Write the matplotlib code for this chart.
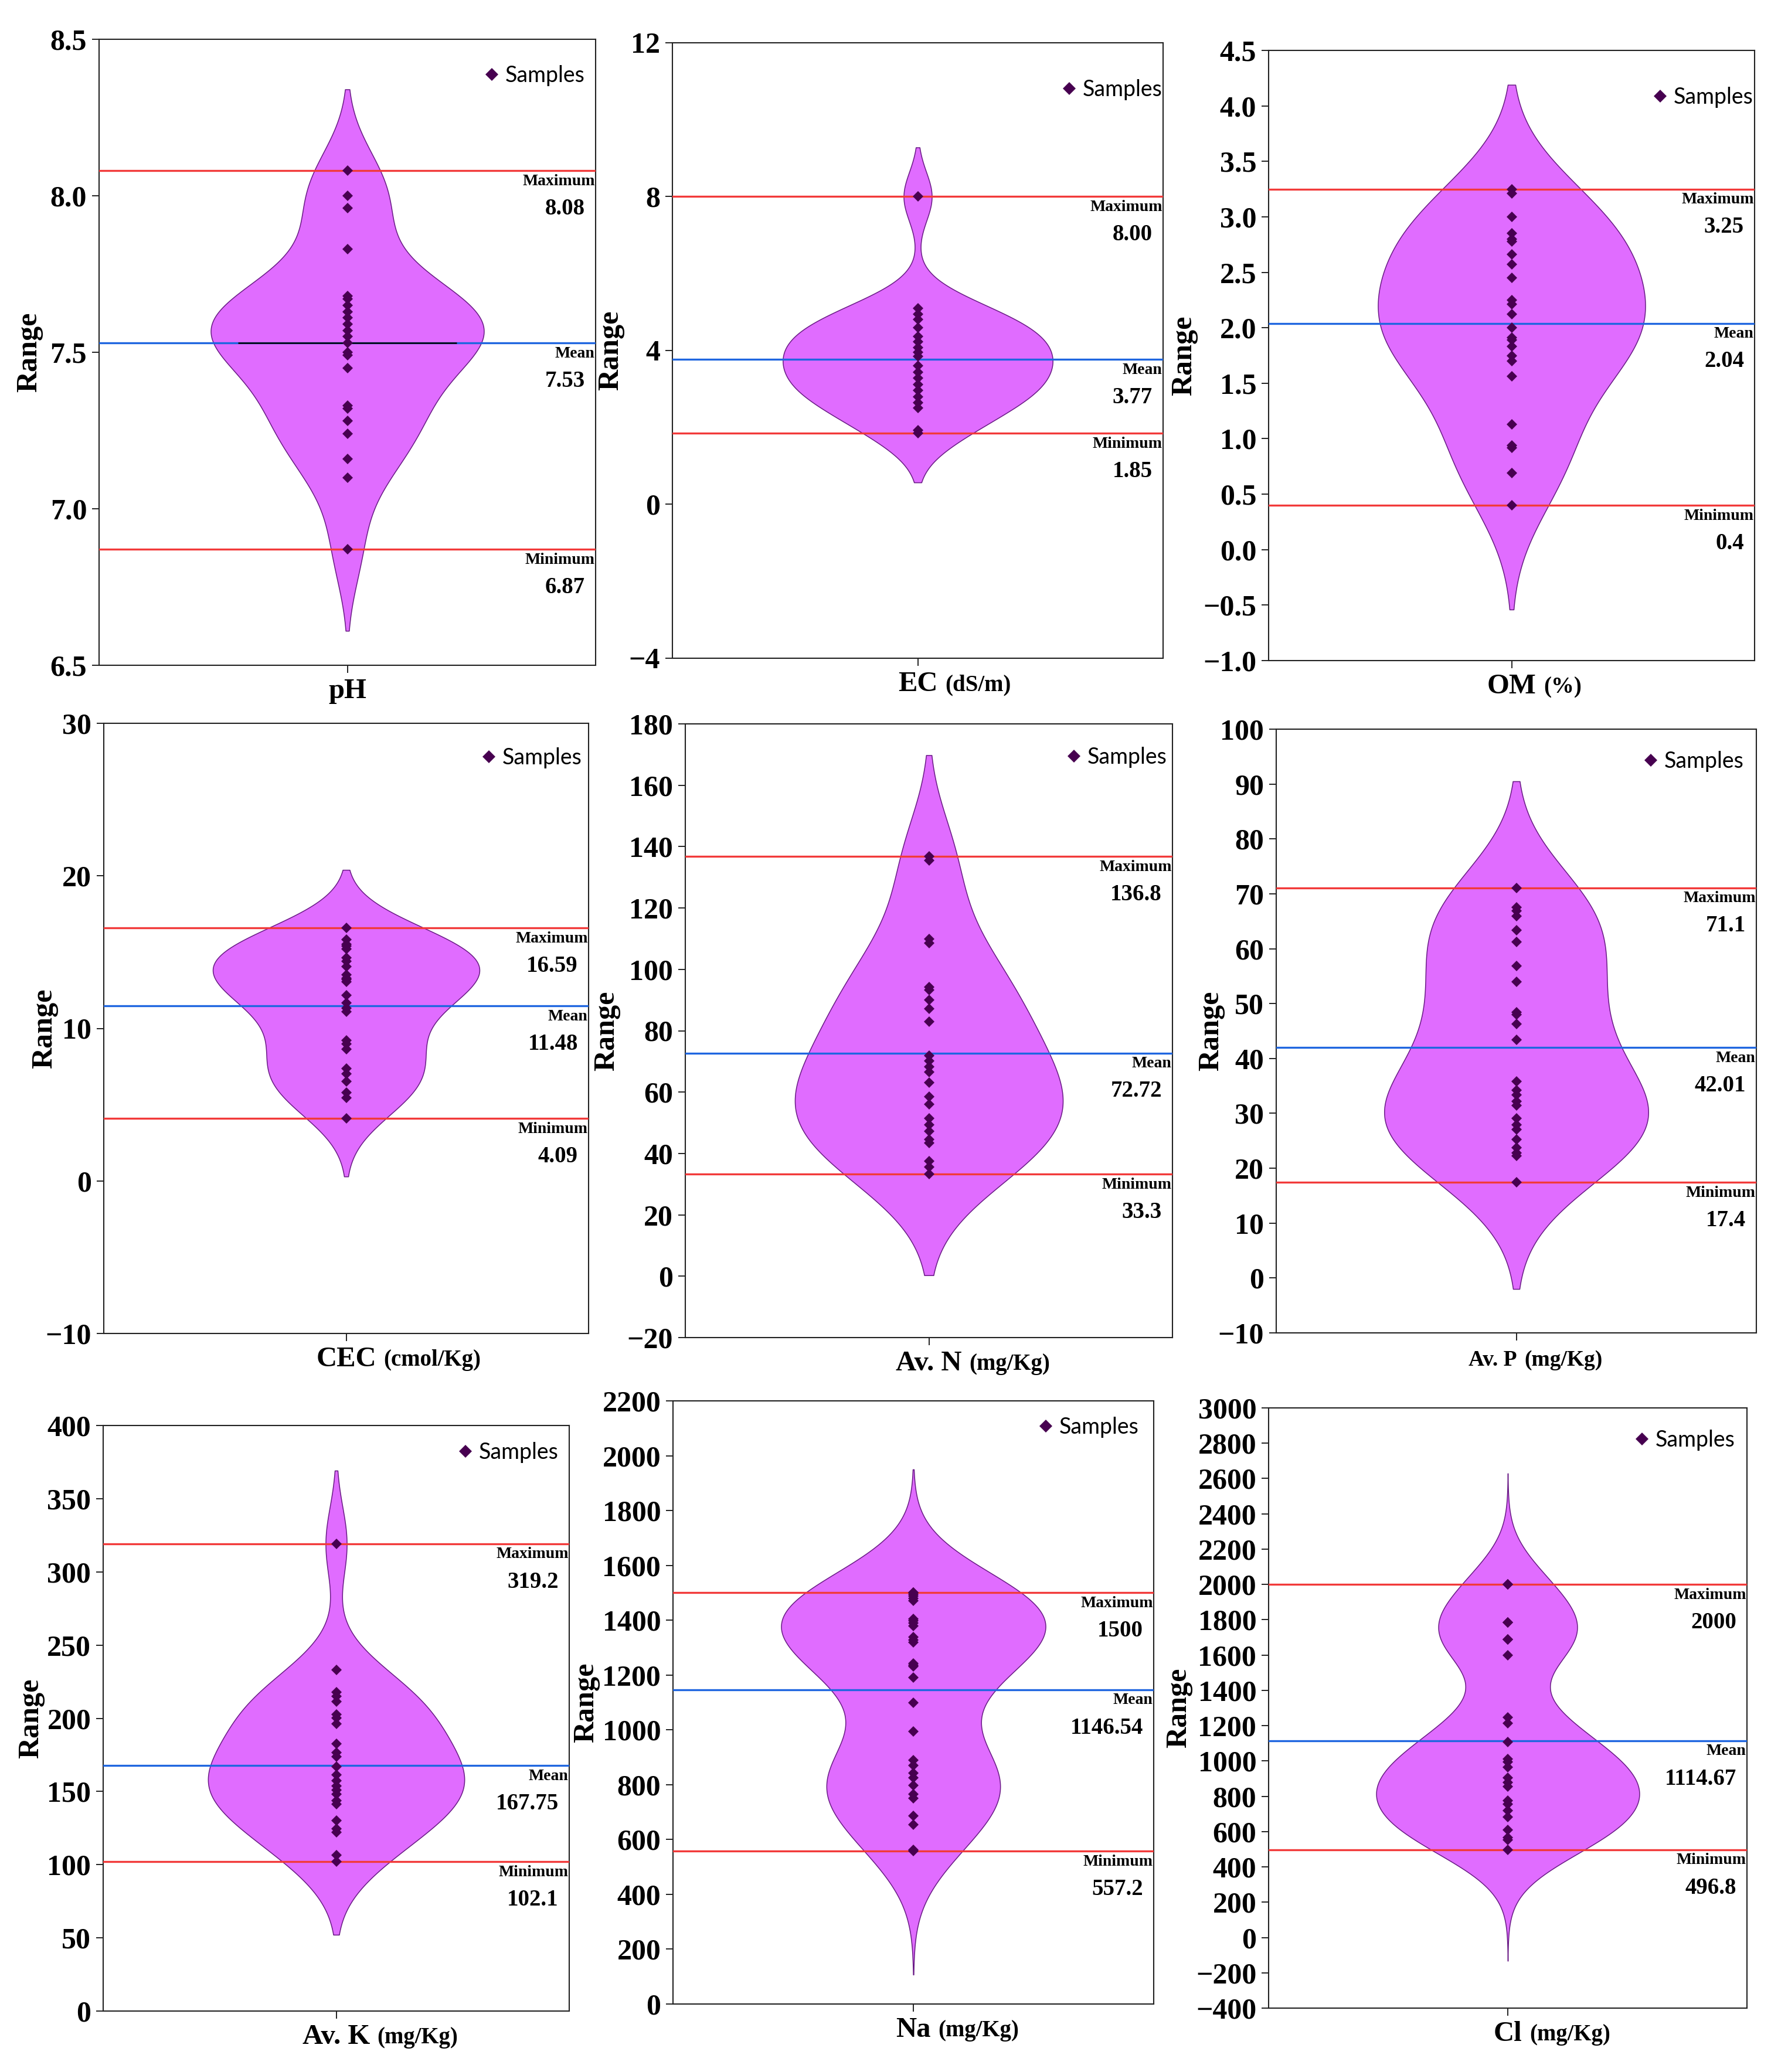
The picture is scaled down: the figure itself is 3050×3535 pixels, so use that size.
import numpy as np
import matplotlib
matplotlib.use("Agg")
import matplotlib.pyplot as plt
from matplotlib.lines import Line2D

# ---------------- data ----------------
panel_names = ["pH", "EC", "OM", "CEC", "Av. N", "Av. P", "Av. K", "Na", "Cl"]
panel_units = ["", "(dS/m)", "(%)", "(cmol/Kg)", "(mg/Kg)", "(mg/Kg)", "(mg/Kg)", "(mg/Kg)", "(mg/Kg)"]

ph_samples = [8.08, 8.00, 7.96, 7.83, 7.68, 7.67, 7.65, 7.63, 7.61, 7.59, 7.57, 7.55,
              7.53, 7.50, 7.49, 7.45, 7.33, 7.32, 7.28, 7.24, 7.16, 7.10, 6.87]
ec_samples = [8.00, 5.09, 4.95, 4.81, 4.60, 4.37, 4.23, 4.07, 3.96, 3.84, 3.61, 3.43,
              3.29, 3.11, 2.97, 2.79, 2.65, 2.50, 1.92, 1.85]
om_samples = [3.25, 3.21, 3.00, 2.85, 2.80, 2.78, 2.66, 2.57, 2.45, 2.25, 2.21, 2.12,
              2.00, 1.91, 1.89, 1.83, 1.75, 1.70, 1.56, 1.13, 0.94, 0.92, 0.69, 0.40]
cec_samples = [16.59, 15.82, 15.50, 15.40, 15.20, 14.64, 14.41, 14.07, 13.51, 13.28,
               13.20, 13.06, 12.16, 11.68, 11.31, 11.09, 9.20, 9.00, 8.63, 7.36, 7.03,
               6.52, 5.81, 5.45, 4.09]
avn_samples = [136.8, 135.4, 109.9, 108.5, 94.2, 93.2, 90.0, 87.2, 83.0, 71.8, 70.1,
               68.3, 66.5, 63.1, 58.5, 56.1, 51.5, 49.4, 47.3, 44.5, 43.5, 37.5, 35.6, 33.3]
avp_samples = [71.1, 67.5, 66.9, 65.9, 63.4, 61.2, 56.9, 54.0, 48.4, 48.0, 46.3, 43.4,
               35.8, 34.2, 33.4, 32.2, 31.4, 29.1, 27.9, 27.1, 25.2, 23.8, 22.8, 22.3, 17.4]
avk_samples = [319.2, 232.9, 217.8, 214.9, 211.3, 202.5, 200.1, 196.0, 182.5, 176.6,
               173.6, 167.1, 161.2, 157.4, 153.9, 150.9, 148.0, 143.6, 141.2, 130.3,
               124.4, 122.3, 106.7, 102.1]
na_samples = [1500, 1500, 1495, 1488, 1479, 1470, 1404, 1398, 1390, 1378, 1338, 1328,
              1319, 1242, 1236, 1231, 1191, 1098, 995, 889, 870, 843, 825, 798, 766,
              750, 686, 654, 562, 557.2]
cl_samples = [2000, 2000, 1784, 1784, 1689, 1689, 1598, 1246, 1214, 1109, 1011, 994,
              965, 904, 879, 855, 774, 754, 718, 681, 608, 566, 554, 496.8]

max_values = [8.08, 8.00, 3.25, 16.59, 136.8, 71.1, 319.2, 1500, 2000]
mean_values = [7.53, 3.77, 2.04, 11.48, 72.72, 42.01, 167.75, 1146.54, 1114.67]
min_values = [6.87, 1.85, 0.4, 4.09, 33.3, 17.4, 102.1, 557.2, 496.8]
max_labels = ["8.08", "8.00", "3.25", "16.59", "136.8", "71.1", "319.2", "1500", "2000"]
mean_labels = ["7.53", "3.77", "2.04", "11.48", "72.72", "42.01", "167.75", "1146.54", "1114.67"]
min_labels = ["6.87", "1.85", "0.4", "4.09", "33.3", "17.4", "102.1", "557.2", "496.8"]

y_limits = [(6.5, 8.5), (-4, 12), (-1.0, 4.5), (-10, 30), (-20, 180), (-10, 100),
            (0, 400), (0, 2200), (-400, 3000)]
y_tick_steps = [0.5, 4, 0.5, 10, 20, 10, 50, 200, 200]

sample_sets = [ph_samples, ec_samples, om_samples, cec_samples, avn_samples,
               avp_samples, avk_samples, na_samples, cl_samples]

# ---------------- style / layout ----------------
FIG_W, FIG_H, DPI = 3050, 3535, 100
axes_boxes = [(169, 67, 1016, 1135), (1147, 73, 1984, 1123), (2164, 86, 2993, 1127),
              (177, 1234, 1004, 2275), (1169, 1235, 2000, 2282), (2177, 1244, 2996, 2274),
              (176, 2432, 971, 3431), (1148, 2390, 1968, 3419), (2164, 2402, 2980, 3426)]
ylabel_offsets = [119, 105, 144, 101, 134, 111, 123, 148, 153]
legend_offsets = [(-177, 62), (-160, 80), (-161, 80), (-170, 59), (-168, 57),
                  (-180, 55), (-177, 46), (-184, 45), (-179, 55)]
violin_bw = [0.13, 0.64, 0.47, 1.9, 16.5, 9.7, 25, 150, 185]
violin_cut = [2, 2, 2, 2, 2, 2, 2, 3.0, 3.4]
name_sizes = [35, 35, 35, 35, 35, 27, 35, 35, 35]
name_dx = [0, 0, 0, 0, 0, -40, 0, 0, 0]

VIOLIN = "#E06CFF"
VEDGE = "#6A1B86"
PT = "#470050"
RED = "#F23A3A"
BLUE = "#1F66E0"
SERIF = ["Liberation Serif", "DejaVu Serif"]

plt.rcParams["font.family"] = SERIF
plt.rcParams["font.weight"] = "bold"
plt.rcParams["axes.unicode_minus"] = True

fig = plt.figure(figsize=(FIG_W / DPI, FIG_H / DPI), dpi=DPI)
fig.patch.set_facecolor("white")


def px_box(l, t, r, b):
    return [l / FIG_W, 1 - b / FIG_H, (r - l) / FIG_W, (b - t) / FIG_H]


def kde(samples, bw, grid):
    s = np.asarray(samples, float)
    z = (grid[:, None] - s[None, :]) / bw
    return np.exp(-0.5 * z * z).sum(axis=1) / (len(s) * bw * np.sqrt(2 * np.pi))


for i in range(9):
    l, t, r, b = axes_boxes[i]
    aw, ah = r - l, b - t
    ax = fig.add_axes(px_box(l, t, r, b))
    s = np.asarray(sample_sets[i], float)
    bw = violin_bw[i]
    cut = violin_cut[i]
    grid = np.linspace(s.min() - cut * bw, s.max() + cut * bw, 900)
    dens = kde(s, bw, grid)
    half = dens / dens.max() * 0.275
    ax.fill_betweenx(grid, -half, half, facecolor=VIOLIN, edgecolor=VEDGE,
                     linewidth=1.1, zorder=2)

    ax.axhline(max_values[i], color=RED, lw=2.4, zorder=3)
    ax.axhline(min_values[i], color=RED, lw=2.4, zorder=3)
    ax.axhline(mean_values[i], color=BLUE, lw=2.4, zorder=3)
    if i == 0:
        ax.hlines(mean_values[i], -0.22, 0.22, color="black", lw=1.8, zorder=3.5)

    ax.plot(np.zeros(len(s)), s, linestyle="none", marker="D", ms=9.5,
            color=PT, mew=0, zorder=4)

    ax.set_xlim(-0.5, 0.5)
    lo, hi = y_limits[i]
    ax.set_ylim(lo, hi)
    step = y_tick_steps[i]
    ax.set_yticks(np.arange(lo, hi + step / 2, step))
    ax.set_xticks([0])
    ax.set_xticklabels([""])
    ax.tick_params(axis="both", direction="out", length=9, width=1.4,
                   labelsize=36, pad=6, color="#222222")
    for lab in ax.get_yticklabels():
        lab.set_fontweight("bold")
        lab.set_family(SERIF)
    for sp in ax.spines.values():
        sp.set_linewidth(1.5)
        sp.set_color("#222222")

    ax.set_ylabel("Range", fontsize=36, fontweight="bold", va="center")
    ax.yaxis.set_label_coords(-ylabel_offsets[i] / aw, 0.5)

    # right-hand statistic labels
    for val, name, lab in [(max_values[i], "Maximum", max_labels[i]),
                           (mean_values[i], "Mean", mean_labels[i]),
                           (min_values[i], "Minimum", min_labels[i])]:
        ax.annotate(name, xy=(1, val), xycoords=("axes fraction", "data"),
                    xytext=(-1, -13), textcoords="offset points", ha="right",
                    va="center", fontsize=20, fontweight="bold", zorder=5)
        ax.annotate(lab, xy=(1, val), xycoords=("axes fraction", "data"),
                    xytext=(-13, -47), textcoords="offset points", ha="right",
                    va="center", fontsize=28, fontweight="bold", zorder=5)

    # x label: name + smaller unit
    main = ax.annotate(panel_names[i], xy=(0.5, 0), xycoords="axes fraction",
                       xytext=(name_dx[i] * 0.72, -40), textcoords="offset points",
                       ha="center", va="baseline", fontsize=name_sizes[i],
                       fontweight="bold", annotation_clip=False)
    if panel_units[i]:
        usize = 28 if name_sizes[i] > 30 else name_sizes[i]
        ax.annotate(panel_units[i], xy=(1, 0), xycoords=main,
                    xytext=(9, 0.216 * name_sizes[i]), textcoords="offset points",
                    ha="left", va="baseline", fontsize=usize, fontweight="bold",
                    annotation_clip=False)

    # legend
    dx, dy = legend_offsets[i]
    em = 27 * DPI / 72.0
    hl = 0.6
    anchor_x = (aw + dx - hl * em / 2) / aw
    anchor_y = 1 - dy / ah
    handle = Line2D([], [], linestyle="none", marker="D", ms=11.5, color=PT, mew=0)
    ax.legend([handle], ["Samples"], loc="center left", bbox_to_anchor=(anchor_x, anchor_y),
              frameon=False, borderpad=0, borderaxespad=0, handlelength=hl,
              handletextpad=0.3, prop={"family": ["Lato", "DejaVu Sans"],
                                       "size": 27, "weight": "normal"})

fig.savefig("out.png", dpi=DPI, facecolor="white")
